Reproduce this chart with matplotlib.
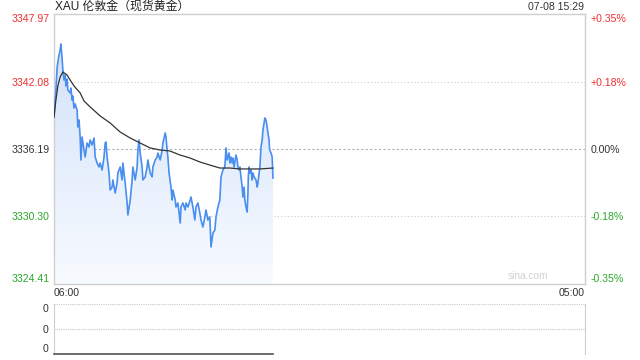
import matplotlib.pyplot as plt
import matplotlib.transforms as mtransforms
import numpy as np
from matplotlib.patches import Polygon

plt.rcParams['font.family'] = ['Liberation Sans', 'Noto Sans CJK SC', 'DejaVu Sans']

title = 'XAU 伦敦金（现货黄金）'
stamp = '07-08 15:29'
prev_close = 3336.19

# minutes after 06:00 and price
minutes = [0, 5, 8, 10, 13, 16, 18, 21, 23, 26, 29, 31, 34, 36, 42, 44, 47, 49, 52, 55,
           60, 62, 65, 68, 70, 73, 78, 81, 86, 91, 94, 99, 104, 107, 112, 117, 120, 125, 130, 133,
           135, 138, 143, 146, 151, 153, 159, 164, 166, 172, 177, 179, 185, 190, 192, 198, 203, 205, 211, 216,
           218, 221, 224, 229, 231, 237, 242, 244, 250, 255, 257, 263, 268, 270, 276, 281, 283, 289, 291, 294,
           296, 299, 304, 307, 309, 315, 317, 322, 328, 330, 335, 341, 343, 348, 354, 356, 361, 366, 369, 374,
           379, 382, 387, 392, 395, 400, 405, 408, 413, 418, 421, 426, 431, 434, 439, 444, 447, 450, 452, 455,
           457, 460, 463, 465, 468, 473, 476, 478, 481, 483, 486, 489, 491, 494, 496, 499, 502, 504, 505, 507,
           509, 512, 515, 517, 520, 525, 528, 530, 533, 535, 538, 541, 543, 546, 548, 551, 554, 556, 559, 560,
           561, 564, 567, 569]
prices = [3338.98, 3341.34, 3343.26, 3343.78, 3344.39, 3344.83, 3345.35, 3344.13, 3343.08, 3342.21,
          3342.65, 3341.69, 3342.30, 3341.34, 3341.08, 3341.51, 3340.47, 3340.81, 3339.77, 3340.12,
          3339.59, 3338.11, 3338.72, 3337.24, 3335.23, 3337.24, 3336.10, 3335.49, 3336.71, 3336.37,
          3336.98, 3336.54, 3337.15, 3335.49, 3334.97, 3334.62, 3334.97, 3334.36, 3335.49, 3336.71,
          3336.80, 3335.49, 3334.10, 3332.61, 3332.87, 3333.49, 3332.35, 3333.22, 3334.10, 3334.62,
          3333.49, 3334.97, 3333.22, 3331.48, 3330.43, 3331.74, 3333.49, 3334.62, 3333.49, 3334.62,
          3336.10, 3336.98, 3335.84, 3334.62, 3333.49, 3333.75, 3334.62, 3335.23, 3334.10, 3333.75,
          3334.62, 3335.23, 3335.49, 3335.84, 3335.23, 3336.10, 3336.71, 3337.59, 3337.24, 3336.10,
          3335.49, 3334.10, 3332.87, 3331.74, 3332.61, 3331.74, 3331.13, 3331.48, 3329.73, 3331.13,
          3331.48, 3330.87, 3331.48, 3331.13, 3331.74, 3332.00, 3331.13, 3329.99, 3331.13, 3331.48,
          3330.61, 3329.99, 3329.38, 3330.26, 3330.87, 3329.99, 3330.26, 3327.64, 3328.86, 3329.12,
          3330.26, 3331.13, 3331.74, 3333.75, 3334.36, 3334.62, 3336.28, 3335.23, 3335.49, 3335.84,
          3334.97, 3335.49, 3334.97, 3335.41, 3334.62, 3335.67, 3335.23, 3334.62, 3334.36, 3334.62,
          3333.75, 3332.87, 3332.00, 3332.87, 3331.74, 3331.13, 3330.69, 3332.35, 3333.75, 3334.62,
          3334.10, 3334.36, 3333.49, 3334.10, 3333.75, 3333.49, 3332.87, 3333.22, 3334.10, 3334.53,
          3336.37, 3336.98, 3337.85, 3338.46, 3338.90, 3338.72, 3338.11, 3337.59, 3336.98, 3336.28,
          3336.10, 3335.84, 3335.49, 3333.66]

# average price line
avg_minutes = [0, 5, 10, 16, 23, 34, 42, 52, 68, 78, 94, 120, 146, 172, 198, 224, 250, 276,
               301, 327, 353, 379, 405, 431, 457, 483, 509, 535, 569]
avg_prices = [3338.98, 3340.47, 3341.69, 3342.47, 3342.91, 3342.65, 3342.21, 3341.69, 3341.08,
              3340.38, 3339.86, 3339.07, 3338.46, 3337.67, 3337.15, 3336.71, 3336.28, 3336.10,
              3336.02, 3335.67, 3335.41, 3335.06, 3334.79, 3334.53, 3334.53, 3334.45, 3334.45,
              3334.45, 3334.53]

price_ticks = [3324.41, 3330.30, 3336.19, 3342.08, 3347.97]
pct_labels = ['-0.35%', '-0.18%', '0.00%', '+0.18%', '+0.35%']
tick_colors = ['#2aa82a', '#2aa82a', '#333333', '#f03030', '#f03030']
day_minutes = 1380
x_labels = ['06:00', '05:00']

BLUE = '#4a8ef0'
EDGE = '#cfcfcf'
FS = 7.6

W, H = 640, 360
fig = plt.figure(figsize=(6.4, 3.6), dpi=100)


def box(l, t, r, b):
    return [l / W, 1 - b / H, (r - l) / W, (b - t) / H]


ax = fig.add_axes(box(54, 14, 585, 284))
ax.set_xlim(0, day_minutes)
ax.set_ylim(price_ticks[0], price_ticks[-1])
for s in ax.spines.values():
    s.set_color(EDGE)
    s.set_linewidth(1)

for v in price_ticks[1:-1]:
    if v == prev_close:
        ax.axhline(v, color='#b0b0b0', lw=0.8, ls=(0, (2, 2)), zorder=1)
    else:
        ax.axhline(v, color='#cccccc', lw=0.8, ls=(0, (1, 2)), zorder=1)

# gradient fill under the price line
x = np.array(minutes)
y = np.array(prices)
verts = np.vstack([np.column_stack([x, y]), [[x[-1], price_ticks[0]], [x[0], price_ticks[0]]]])
poly = Polygon(verts, closed=True, facecolor='none', edgecolor='none')
ax.add_patch(poly)
grad = np.linspace(0, 1, 256).reshape(-1, 1)
cmap = plt.matplotlib.colors.LinearSegmentedColormap.from_list('g', ['#f8fbff', '#d3e2fa'])
im = ax.imshow(grad, extent=[0, x[-1], price_ticks[0], y.max()], origin='lower', aspect='auto',
               cmap=cmap, zorder=2)
im.set_clip_path(poly)

ax.plot(minutes, prices, color=BLUE, lw=1.2, zorder=4)
ax.plot(avg_minutes, avg_prices, color='#333333', lw=0.9, zorder=5)

ax.set_xticks([])
ax.set_yticks(price_ticks)
ax.set_yticklabels([f'{v:.2f}' for v in price_ticks])
ax.tick_params(axis='y', length=0, pad=3, labelsize=FS)
for lab, c in zip(ax.get_yticklabels(), tick_colors):
    lab.set_color(c)
ax.get_yticklabels()[0].set_va('bottom')
ax.get_yticklabels()[-1].set_va('top')

ax2 = ax.twinx()
ax2.set_ylim(ax.get_ylim())
ax2.set_yticks(price_ticks)
ax2.set_yticklabels(pct_labels)
ax2.tick_params(axis='y', length=0, pad=4, labelsize=FS)
for lab, c in zip(ax2.get_yticklabels(), tick_colors):
    lab.set_color(c)
ax2.get_yticklabels()[0].set_va('bottom')
ax2.get_yticklabels()[-1].set_va('top')
for s in ax2.spines.values():
    s.set_visible(False)

trans = mtransforms.blended_transform_factory(ax.transData, ax.transAxes)
ax.text(0, -0.015, x_labels[0], transform=trans, ha='left', va='top', fontsize=FS, color='#333333')
ax.text(day_minutes, -0.015, x_labels[1], transform=trans, ha='right', va='top', fontsize=FS,
        color='#333333')
ax.text(0.93, 0.012, 'sina.com', transform=ax.transAxes, ha='right', va='bottom', fontsize=7.3,
        color='#d0d0d0')

fig.text(55 / W, 1 - 7 / H, title, ha='left', va='center', fontsize=8.6, color='#222222')
fig.text(584 / W, 1 - 7 / H, stamp, ha='right', va='center', fontsize=FS, color='#333333')

# volume panel
vol = fig.add_axes(box(54, 304, 585, 354))
vol.set_xlim(0, day_minutes)
vol.set_ylim(0, 1)
vol.spines['left'].set_color(EDGE)
vol.spines['right'].set_color(EDGE)
vol.spines['top'].set_visible(False)
vol.spines['bottom'].set_visible(False)
for v in [0, 0.5, 1]:
    vol.axhline(v, color='#c8c8c8', lw=0.8, ls=(0, (1, 1)), zorder=1)
vol.plot(minutes, np.zeros(len(minutes)), color='#555555', lw=1.2, zorder=3, clip_on=False)
vol.set_xticks([])
vol.set_yticks([0, 0.5, 1])
vol.set_yticklabels(['0', '0', '0'])
vol.tick_params(axis='y', length=0, pad=4, labelsize=FS, labelcolor='#333333')
vol.get_yticklabels()[0].set_va('bottom')
vol.get_yticklabels()[-1].set_va('top')

fig.savefig('out.png', dpi=100)
